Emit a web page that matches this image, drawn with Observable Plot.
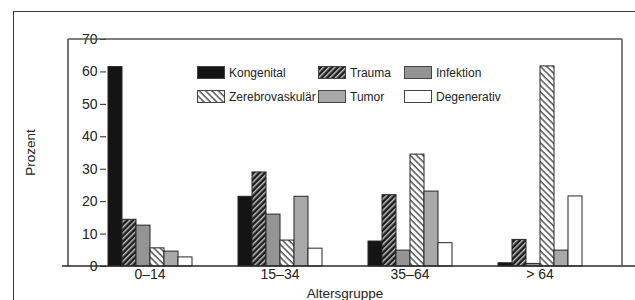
<!DOCTYPE html>
<html>
<head>
<meta charset="utf-8">
<script src="https://cdn.jsdelivr.net/npm/d3@7"></script>
<script src="https://cdn.jsdelivr.net/npm/@observablehq/plot@0.6"></script>
<style>
  html, body { margin: 0; padding: 0; background: #fff; }
  body { font-family: "Liberation Sans", Arial, Helvetica, sans-serif; }
  #wrap { position: relative; width: 635px; height: 300px; overflow: hidden; background: #fff; }
  #border { position: absolute; left: 13px; top: 11px; width: 700px; height: 400px;
            border-left: 1.5px solid #3a3a3a; border-top: 1.5px solid #3a3a3a; pointer-events: none; }
  #legend { position: absolute; left: 197px; top: 66px; display: grid;
            grid-template-columns: 121px 86px auto; row-gap: 11px; font-size: 12px; color: #222; }
  .item { display: flex; align-items: center; height: 13px; white-space: nowrap; }
  .sw { width: 28px; height: 13px; margin-right: 4px; flex: none; }
  #defs { position: absolute; width: 0; height: 0; }
</style>
</head>
<body>
<div id="wrap">
  <svg id="defs" width="0" height="0">
    <defs>
      <pattern id="p-trauma" patternUnits="userSpaceOnUse" width="4" height="4" patternTransform="rotate(45)">
        <rect width="4" height="4" fill="#1c1c1c"></rect>
        <line x1="0.8" y1="0" x2="0.8" y2="4" stroke="#e8e8e8" stroke-width="1.2"></line>
      </pattern>
      <pattern id="p-zerebro" patternUnits="userSpaceOnUse" width="4.5" height="4.5" patternTransform="rotate(-45)">
        <rect width="4.5" height="4.5" fill="#ffffff"></rect>
        <line x1="1" y1="0" x2="1" y2="4.5" stroke="#2a2a2a" stroke-width="1.2"></line>
      </pattern>
    </defs>
  </svg>
  <div id="chart"></div>
  <div id="legend"></div>
  <div id="border"></div>
</div>
<script>
const groups = ["0–14", "15–34", "35–64", "> 64"];
const types = ["Kongenital", "Trauma", "Infektion", "Zerebrovaskulär", "Tumor", "Degenerativ"];
const legendOrder = ["Kongenital", "Trauma", "Infektion", "Zerebrovaskulär", "Tumor", "Degenerativ"];
const kongenital = [61.5, 21.5, 7.7, 1.0];
const trauma = [14.4, 29.0, 22.0, 8.2];
const infektion = [12.6, 16.0, 4.9, 0.8];
const zerebrovaskular = [5.6, 8.0, 34.5, 61.7];
const tumor = [4.6, 21.5, 23.1, 4.9];
const degenerativ = [2.8, 5.5, 7.2, 21.6];
const yTicks = [0, 10, 20, 30, 40, 50, 60, 70];
const xTitle = "Altersgruppe";
const yTitle = "Prozent";

const fills = ["#141414", "url(#p-trauma)", "#949494", "url(#p-zerebro)", "#a9a9a9", "#ffffff"];
const seriesValues = [kongenital, trauma, infektion, zerebrovaskular, tumor, degenerativ];

const data = [];
types.forEach((t, i) => groups.forEach((g, j) => data.push({group: g, type: t, value: seriesValues[i][j]})));

const W = 635, H = 300, mL = 68, mR = 13, mT = 39, mB = 34;

const chart = Plot.plot({
  width: W,
  height: H,
  marginLeft: mL,
  marginRight: mR,
  marginTop: mT,
  marginBottom: mB,
  style: {fontFamily: '"Liberation Sans", Arial, Helvetica, sans-serif', fontSize: "14px", color: "#222", background: "transparent"},
  fx: {domain: groups, paddingInner: 0.33, paddingOuter: 0.28, label: null},
  x: {domain: types, padding: 0, axis: null},
  y: {domain: [0, 70], axis: null},
  color: {domain: types, range: fills, type: "ordinal"},
  marks: [
    Plot.barY(data, {fx: "group", x: "type", y: "value", fill: "type", stroke: "#262626", strokeWidth: 1}),
    Plot.axisY({ticks: yTicks, tickSize: 6, tickPadding: 3, fontSize: 14, label: null, stroke: "#222"}),
    Plot.axisFx({anchor: "bottom", tickSize: 0, tickPadding: 3, fontSize: 14, label: null})
  ]
});
document.getElementById("chart").appendChild(chart);

// frame lines derived from the y scale
const ys = chart.scale("y");
const y0 = ys.apply(0), y70 = ys.apply(70);
const sel = d3.select(chart);
const g = sel.append("g").attr("stroke", "#2a2a2a").attr("fill", "none");
g.append("line").attr("x1", mL).attr("x2", mL).attr("y1", y70).attr("y2", y0).attr("stroke-width", 1.3);
g.append("line").attr("x1", mL - 6).attr("x2", W).attr("y1", y0).attr("y2", y0).attr("stroke-width", 1.6);
g.append("line").attr("x1", mL).attr("x2", W - mR).attr("y1", y70).attr("y2", y70).attr("stroke-width", 1.3).attr("stroke", "#555");
g.append("line").attr("x1", W - mR).attr("x2", W - mR).attr("y1", y70).attr("y2", y0).attr("stroke-width", 1.5).attr("stroke", "#555");

// axis titles
sel.append("text").attr("x", (mL + W - mR) / 2).attr("y", H - 2).attr("text-anchor", "middle")
  .attr("font-size", 13.5).attr("fill", "#222").text(xTitle);
sel.append("text").attr("transform", `translate(35,${(y0 + y70) / 2}) rotate(-90)`).attr("text-anchor", "middle")
  .attr("font-size", 13.5).attr("fill", "#222").text(yTitle);

// legend
const leg = document.getElementById("legend");
legendOrder.forEach(t => {
  const i = types.indexOf(t);
  const item = document.createElement("div");
  item.className = "item";
  item.innerHTML = `<svg class="sw" width="28" height="13"><rect x="0.5" y="0.5" width="27" height="12" fill="${fills[i]}" stroke="#444" stroke-width="1"></rect></svg><span>${t}</span>`;
  leg.appendChild(item);
});
</script>
</body>
</html>
